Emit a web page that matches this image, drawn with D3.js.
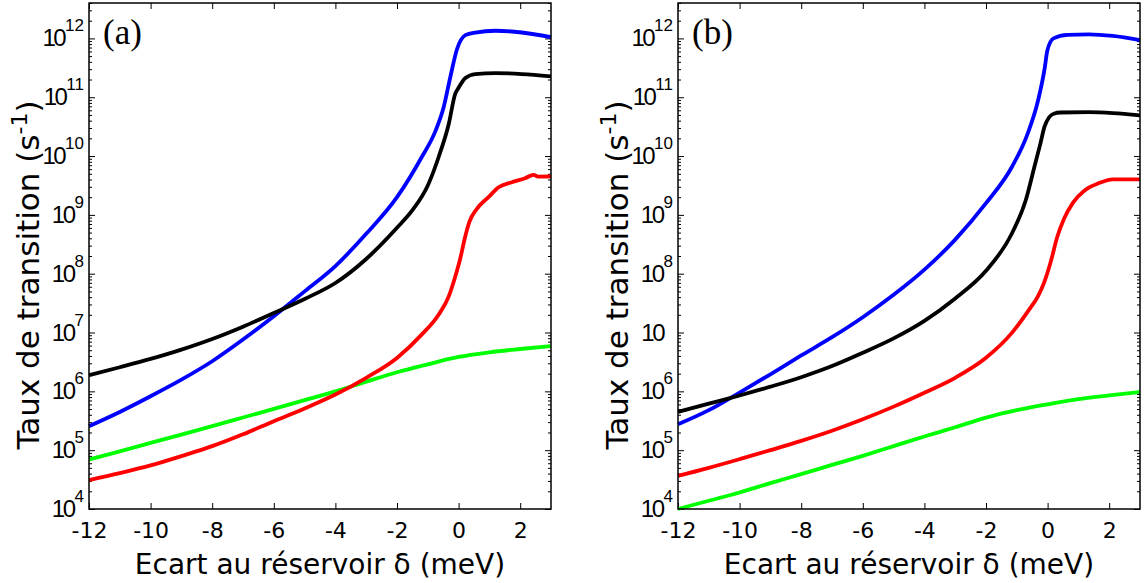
<!DOCTYPE html>
<html><head><meta charset="utf-8">
<script src="https://cdn.jsdelivr.net/npm/d3@7/dist/d3.min.js"></script>
<style>html,body{margin:0;padding:0;background:#fff;}</style>
</head><body>
<svg id="chart" width="1147" height="583"></svg>
<script>
// ---------- data ----------
const xTicks = [-12, -10, -8, -6, -4, -2, 0, 2];
const yTickExps = [4, 5, 6, 7, 8, 9, 10, 11, 12];
const xTitle = "Ecart au réservoir δ (meV)";
const yTitle = "Taux de transition (s";
const panelLabels = ["(a)", "(b)"];

// Panel (a)
const aBlackX = [-12,-11,-10,-9,-8,-7,-6,-5,-4,-3,-2,-1.5,-1,-0.65,-0.32,-0.11,0,0.22,0.54,1.2,2.05,3];
const aBlackY = [1.88e6,2.57e6,3.56e6,5.13e6,7.78e6,1.26e7,2.15e7,3.72e7,6.95e7,1.78e8,6.03e8,1.2e9,3.16e9,9.55e9,3.51e10,1.14e11,1.45e11,2.12e11,2.48e11,2.57e11,2.48e11,2.26e11];
const aBlueX = [-12,-11,-10,-9,-8,-7,-6,-5,-4,-3,-2,-1.2,-0.76,-0.49,-0.27,-0.05,0.22,0.54,1.2,2.05,3];
const aBlueY = [2.56e5,4.47e5,8.26e5,1.58e6,3.25e6,7.59e6,1.89e7,5.01e7,1.35e8,4.76e8,2.0e9,9.55e9,2.6e10,6.6e10,2.19e11,6.61e11,1.14e12,1.26e12,1.35e12,1.26e12,1.05e12];
const aRedX = [-12,-11,-10,-9,-8,-7,-6,-5,-4,-3,-2,-1.2,-0.65,-0.32,-0.11,0.05,0.2,0.35,0.59,0.97,1.3,1.73,2.16,2.43,2.59,3];
const aRedY = [3.1e4,4.07e4,5.5e4,7.94e4,1.17e5,1.86e5,3.11e5,5.13e5,8.83e5,1.7e6,3.7e6,9.2e6,2.01e7,4.12e7,8.9e7,1.78e8,3.98e8,7.59e8,1.26e9,2.0e9,2.95e9,3.59e9,4.2e9,4.79e9,4.47e9,4.54e9];
const aGreenX = [-12,-11,-10,-9,-8,-7,-6,-5,-4,-3,-2,-1,0,1,2,3];
const aGreenY = [6.95e4,9.55e4,1.33e5,1.84e5,2.56e5,3.59e5,5.04e5,7.08e5,1.0e6,1.46e6,2.11e6,2.88e6,3.85e6,4.61e6,5.25e6,5.89e6];

// Panel (b)
const bBlackX = [-12,-11,-10,-9,-8,-7,-6,-5,-4,-3,-2,-1.16,-0.71,-0.43,-0.24,-0.1,0.05,0.2,0.42,1.33,2.12,3];
const bBlackY = [4.47e5,6.17e5,8.51e5,1.2e6,1.74e6,2.69e6,4.52e6,7.94e6,1.58e7,3.8e7,1.12e8,4.83e8,1.77e9,6.52e9,1.58e10,3.16e10,4.57e10,5.25e10,5.5e10,5.57e10,5.37e10,4.9e10];
const bBlueX = [-12,-11,-10,-9,-8,-7,-6,-5,-4,-3,-2,-1.16,-0.65,-0.31,-0.09,-0.01,0.19,0.65,1.33,2.12,3];
const bBlueY = [2.75e5,4.79e5,9.55e5,1.95e6,4.07e6,8.32e6,1.82e7,4.37e7,1.17e8,3.8e8,1.58e9,6.52e9,2.39e10,8.79e10,3.22e11,6.17e11,1.0e12,1.15e12,1.17e12,1.1e12,9.33e11];
const bRedX = [-12,-11,-10,-9,-8,-7,-6,-5,-4,-3,-2,-1.16,-0.6,-0.31,-0.12,0.1,0.31,0.53,0.82,1.21,1.67,2.12,3];
const bRedY = [3.67e4,5.01e4,7.03e4,1.0e5,1.44e5,2.14e5,3.35e5,5.5e5,9.48e5,1.7e6,3.72e6,9.86e6,2.45e7,4.17e7,6.92e7,1.58e8,4.17e8,8.51e8,1.6e9,2.62e9,3.47e9,4.03e9,4.03e9];
const bGreenX = [-12,-11,-10,-9,-8,-7,-6,-5,-4,-3,-2,-1,0,1,2,3];
const bGreenY = [1.0e4,1.38e4,1.91e4,2.75e4,3.92e4,5.62e4,8.02e4,1.17e5,1.71e5,2.45e5,3.58e5,4.79e5,6.03e5,7.41e5,8.55e5,9.77e5];

// ---------- drawing ----------
const svg = d3.select("#chart");
const TOP = 3, BOTTOM = 509;
const panels = [
  {left: 89, right: 551, label: panelLabels[0], hideSup: [],
   series: [[aGreenX,aGreenY,"#00ff00"],[aRedX,aRedY,"#ff0000"],[aBlueX,aBlueY,"#0000ff"],[aBlackX,aBlackY,"#000000"]]},
  {left: 678, right: 1140, label: panelLabels[1], hideSup: [7],
   series: [[bGreenX,bGreenY,"#00ff00"],[bRedX,bRedY,"#ff0000"],[bBlueX,bBlueY,"#0000ff"],[bBlackX,bBlackY,"#000000"]]}
];

panels.forEach(p => {
  const x = d3.scaleLinear().domain([-12, 3]).range([p.left, p.right]);
  const y = d3.scaleLog().domain([1e4, 4e12]).range([BOTTOM, TOP]);
  const g = svg.append("g");

  const minor = [];
  for (let e = 4; e <= 12; e++) for (let m = 2; m <= 9; m++) { const v = m * Math.pow(10, e); if (v <= 4e12) minor.push(v); }
  const major = yTickExps.map(e => Math.pow(10, e));

  const axStyle = sel => { sel.select(".domain").remove(); sel.selectAll("line").attr("stroke", "#000").attr("stroke-width", 1); };

  g.append("g").attr("transform", `translate(${p.left},0)`)
    .call(d3.axisLeft(y).tickValues(minor).tickSizeInner(-3).tickSizeOuter(0).tickFormat(""))
    .call(axStyle);
  g.append("g").attr("transform", `translate(${p.left},0)`)
    .call(d3.axisLeft(y).tickValues(major).tickSizeInner(-6).tickSizeOuter(0).tickFormat(""))
    .call(axStyle);
  g.append("g").attr("transform", `translate(${p.right},0)`)
    .call(d3.axisRight(y).tickValues(minor).tickSizeInner(-3).tickSizeOuter(0).tickFormat(""))
    .call(axStyle);
  g.append("g").attr("transform", `translate(${p.right},0)`)
    .call(d3.axisRight(y).tickValues(major).tickSizeInner(-6).tickSizeOuter(0).tickFormat(""))
    .call(axStyle);
  g.append("g").attr("transform", `translate(0,${TOP})`)
    .call(d3.axisTop(x).tickValues(xTicks).tickSizeInner(-6).tickSizeOuter(0).tickFormat(""))
    .call(axStyle);
  const xb = g.append("g").attr("transform", `translate(0,${BOTTOM})`)
    .call(d3.axisBottom(x).tickValues(xTicks).tickSizeInner(-6).tickSizeOuter(0).tickFormat(d => String(d)));
  xb.call(axStyle);
  xb.selectAll("text").attr("y", 29).attr("dy", null)
    .attr("font-family", "DejaVu Sans, sans-serif").attr("font-size", 22).attr("fill", "#000");

  yTickExps.forEach(e => {
    const hide = p.hideSup.includes(e);
    const t = g.append("text")
      .attr("x", p.left - 5 - (hide ? 10 : 0))
      .attr("y", y(Math.pow(10, e)) + 8)
      .attr("text-anchor", "end")
      .attr("font-family", "Liberation Sans, Arial, sans-serif")
      .attr("fill", "#000");
    t.append("tspan").attr("font-size", 24).attr("letter-spacing", -2.5).text("10");
    if (!hide) t.append("tspan").attr("font-size", 17).attr("dy", -15).attr("dx", 1).text(String(e));
  });

  const line = d3.line().x(d => x(d[0])).y(d => y(d[1])).curve(d3.curveMonotoneX);
  p.series.forEach(([xs, ys, c]) => {
    g.append("path").datum(xs.map((v, i) => [v, ys[i]]))
      .attr("d", line).attr("fill", "none").attr("stroke", c)
      .attr("stroke-width", 3.8).attr("stroke-linejoin", "round").attr("stroke-linecap", "butt");
  });

  g.append("rect").attr("x", p.left).attr("y", TOP)
    .attr("width", p.right - p.left).attr("height", BOTTOM - TOP)
    .attr("fill", "none").attr("stroke", "#000").attr("stroke-width", 1.5);

  g.append("text").attr("x", p.left + 14).attr("y", 44)
    .attr("font-family", "Liberation Serif, Times New Roman, serif").attr("font-size", 35)
    .attr("fill", "#000").text(p.label);

  g.append("text").attr("x", (p.left + p.right) / 2).attr("y", 574)
    .attr("text-anchor", "middle").attr("font-family", "DejaVu Sans, sans-serif")
    .attr("font-size", 28).attr("fill", "#000").text(xTitle);

  const yt = g.append("text")
    .attr("transform", `translate(${p.left - 50},${(TOP + BOTTOM) / 2 + 19}) rotate(-90)`)
    .attr("text-anchor", "middle").attr("font-family", "DejaVu Sans, sans-serif")
    .attr("font-size", 31).attr("fill", "#000");
  yt.append("tspan").text(yTitle);
  yt.append("tspan").attr("font-size", 22).attr("dy", -12).text("-1");
  yt.append("tspan").attr("dy", 12).text(")");
});
</script>
</body></html>
